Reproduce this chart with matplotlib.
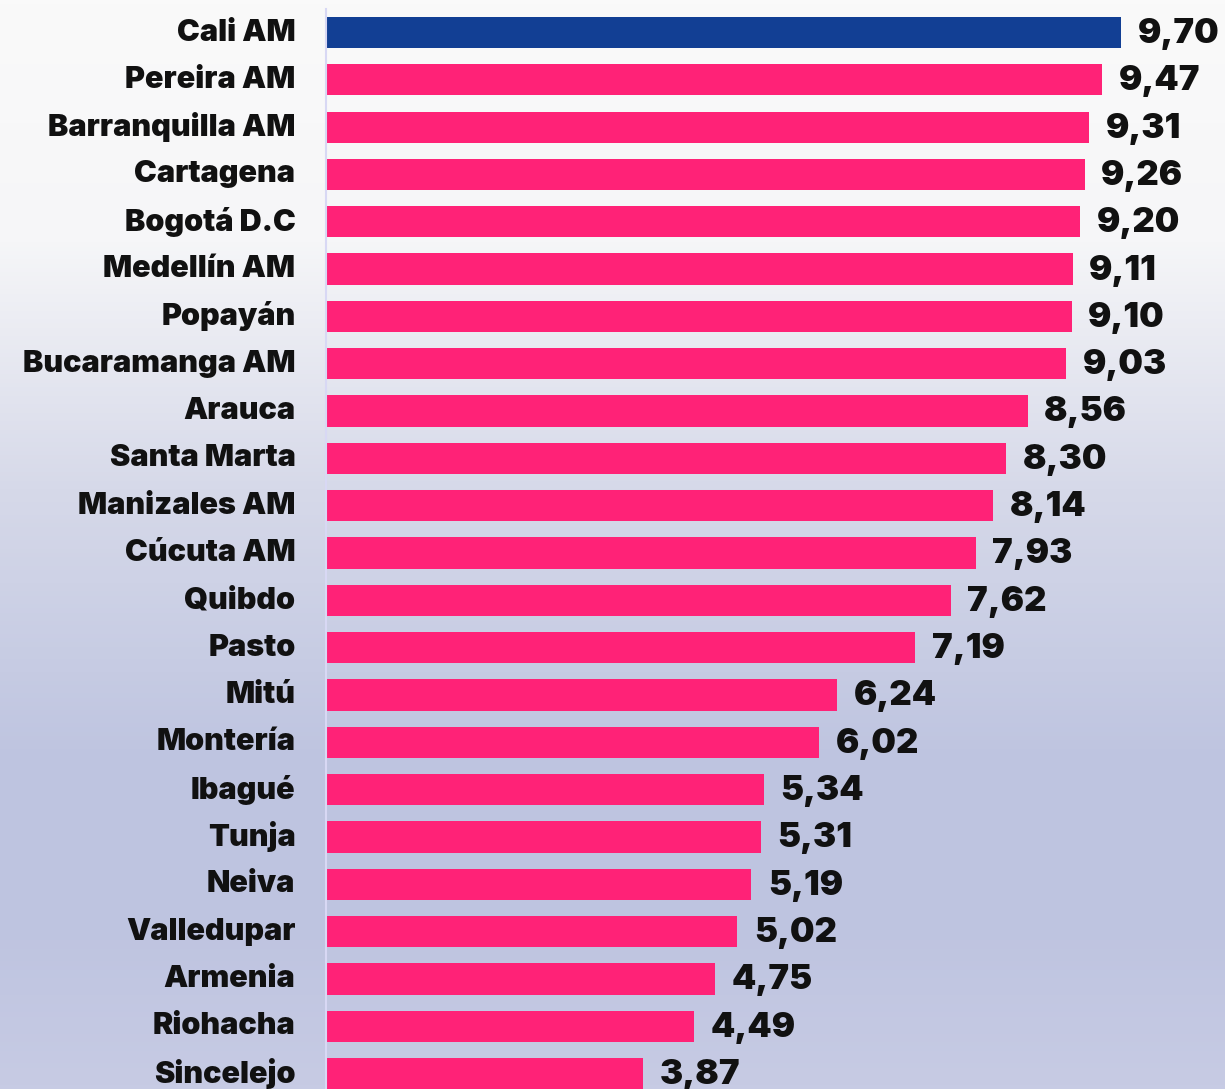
import numpy as np
import matplotlib.pyplot as plt
import matplotlib.transforms as mtransforms
from matplotlib.colors import LinearSegmentedColormap

# Data
ciudades = ["Cali AM", "Pereira AM", "Barranquilla AM", "Cartagena", "Bogotá D.C",
            "Medellín AM", "Popayán", "Bucaramanga AM", "Arauca", "Santa Marta",
            "Manizales AM", "Cúcuta AM", "Quibdo", "Pasto", "Mitú", "Montería",
            "Ibagué", "Tunja", "Neiva", "Valledupar", "Armenia", "Riohacha", "Sincelejo"]
valores = [9.70, 9.47, 9.31, 9.26, 9.20, 9.11, 9.10, 9.03, 8.56, 8.30,
           8.14, 7.93, 7.62, 7.19, 6.24, 6.02, 5.34, 5.31, 5.19, 5.02,
           4.75, 4.49, 3.87]

W, H = 1225, 1089
fig = plt.figure(figsize=(W / 100, H / 100), dpi=100)

# background gradient, white on top fading into lavender
bg = fig.add_axes([0, 0, 1, 1], zorder=-10)
cmap = LinearSegmentedColormap.from_list(
    "fondo", [(0, "#fafafa"), (0.22, "#f6f6f8"), (0.45, "#d6d9e9"),
              (0.7, "#bec4e0"), (0.85, "#bec4e0"), (1, "#c7cbe4")])
grad = np.linspace(0, 1, 256).reshape(-1, 1)
bg.imshow(grad, aspect="auto", cmap=cmap, extent=[0, 1, 0, 1], origin="upper")
bg.axis("off")

top_px = 9
ax = fig.add_axes([326 / W, 0, 1 - 326 / W, 1 - top_px / H])
ax.patch.set_alpha(0)

paso = 47.32
centro0 = 32.5
colores = ["#123f94"] + ["#ff2277"] * (len(valores) - 1)
y = np.arange(len(valores))
ax.barh(y, valores, height=0.66, color=colores, edgecolor="none")

ax.set_ylim((H - centro0) / paso, (top_px - centro0) / paso)
ax.set_xlim(0, (W - 326) / 81.96)

for i, v in enumerate(valores):
    ax.text(v + 0.2, i + 0.03, f"{v:.2f}".replace(".", ","), va="center", ha="left",
            fontsize=25, fontweight="black", family="Inter", color="#111111")

ax.set_yticks(y)
ax.set_yticklabels(ciudades, fontsize=22, fontweight="black", family="Inter",
                   color="#111111")
ax.tick_params(axis="y", length=0, pad=22)
# nudge the city names up a little, like in the original
subir = mtransforms.ScaledTranslation(0, 3 / 100, fig.dpi_scale_trans)
for lbl in ax.get_yticklabels():
    lbl.set_transform(lbl.get_transform() + subir)
ax.set_xticks([])
for s in ["top", "right", "bottom"]:
    ax.spines[s].set_visible(False)
ax.spines["left"].set_color("#d8d8f4")
ax.spines["left"].set_linewidth(1.5)

fig.savefig("out.png", dpi=100)
